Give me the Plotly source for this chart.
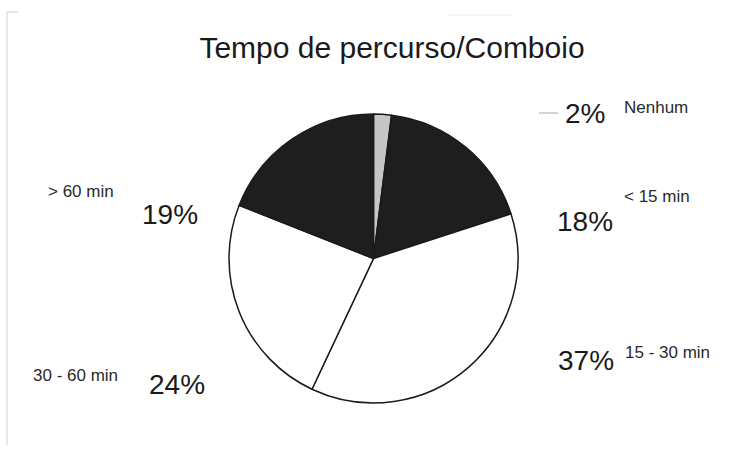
import plotly.graph_objects as go

# data
labels = ["Nenhum", "< 15 min", "15 - 30 min", "30 - 60 min", "> 60 min"]
values = [2, 18, 37, 24, 19]
colors = ["#c6c6c6", "#1e1e1e", "#ffffff", "#ffffff", "#1e1e1e"]

W, H = 750, 475
FONT = "Liberation Sans, Arial, sans-serif"

fig = go.Figure()
fig.add_trace(go.Pie(
    labels=labels, values=values, sort=False, direction="clockwise", rotation=0,
    marker=dict(colors=colors, line=dict(color="#1a1a1a", width=1.5)),
    textinfo="none", hoverinfo="label+percent", showlegend=False,
    domain=dict(x=[229 / W, 518 / W], y=[1 - 403 / H, 1 - 114 / H]),
))

# label positions in pixels: (percent centre), (name left edge, name centre y)
pos = {
    "Nenhum": ((585, 113), (622, 108)),
    "< 15 min": ((585, 221), (622, 196)),
    "15 - 30 min": ((586, 360), (623, 352)),
    "30 - 60 min": ((177, 384), (31, 375)),
    "> 60 min": ((170, 214), (46, 191)),
}
total = sum(values)
for lab, v in zip(labels, values):
    (px_, py_), (lx, ly) = pos[lab]
    fig.add_annotation(x=px_ / W, y=1 - py_ / H, xref="paper", yref="paper",
                       text=f"{round(100 * v / total)}%", showarrow=False,
                       xanchor="center", yanchor="middle",
                       font=dict(family=FONT, size=28, color="#1a1a1a"))
    fig.add_annotation(x=lx / W, y=1 - ly / H, xref="paper", yref="paper",
                       text=lab, showarrow=False, xanchor="left", yanchor="middle",
                       font=dict(family=FONT, size=17, color="#2a2a2a"))

# leader line by the 2% label and faint frame edges of the scan
fig.add_shape(type="line", xref="paper", yref="paper",
              x0=539 / W, x1=558 / W, y0=1 - 113 / H, y1=1 - 113 / H,
              line=dict(color="#d4d4d4", width=2))
fig.add_shape(type="line", xref="paper", yref="paper",
              x0=7 / W, x1=7 / W, y0=1 - 12 / H, y1=1 - 445 / H,
              line=dict(color="#d0d0d0", width=1))
fig.add_shape(type="line", xref="paper", yref="paper",
              x0=7 / W, x1=18 / W, y0=1 - 12 / H, y1=1 - 12 / H,
              line=dict(color="#d0d0d0", width=1))
fig.add_shape(type="line", xref="paper", yref="paper",
              x0=447 / W, x1=513 / W, y0=1 - 15 / H, y1=1 - 15 / H,
              line=dict(color="#ececec", width=1))

fig.update_layout(
    width=W, height=H,
    margin=dict(l=0, r=0, t=0, b=0),
    paper_bgcolor="white", plot_bgcolor="white",
    title=dict(text="Tempo de percurso/Comboio", x=392 / W, xanchor="center",
               y=1 - 47 / H, yanchor="middle",
               font=dict(family=FONT, size=30, color="#1a1a1a")),
)

fig.write_html("out.html", config={"displayModeBar": False},
               post_script="document.body.style.margin='0';")
